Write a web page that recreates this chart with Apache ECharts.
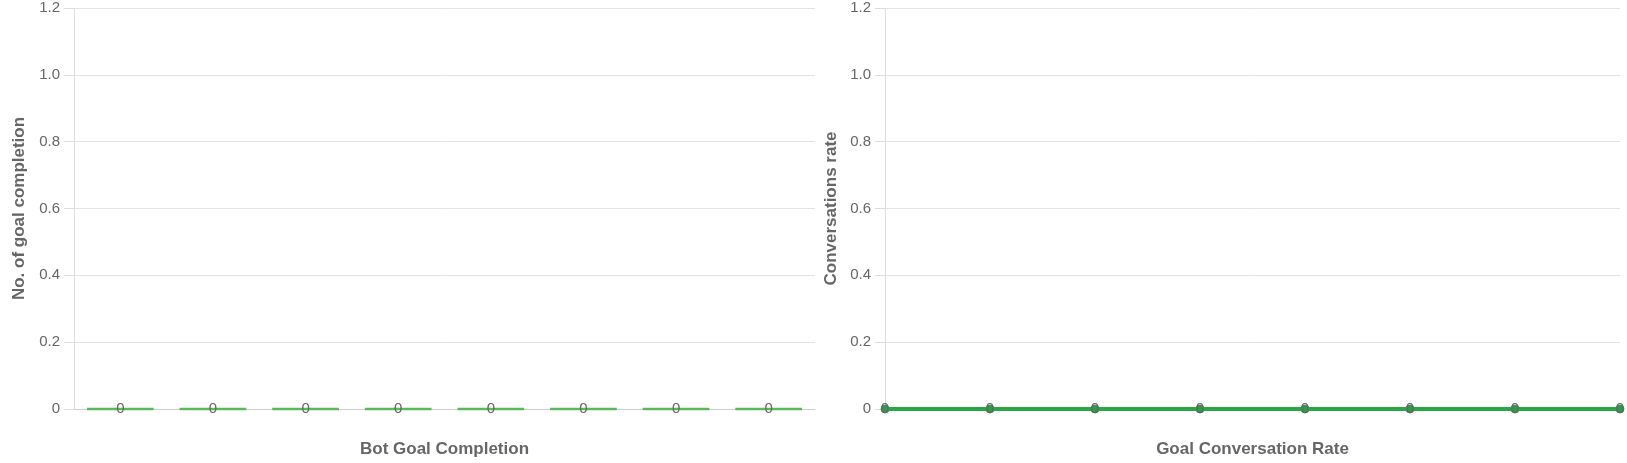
<!DOCTYPE html>
<html>
<head>
<meta charset="utf-8">
<script src="https://cdn.jsdelivr.net/npm/echarts@6/dist/echarts.min.js"></script>
<style>
html, body { margin: 0; padding: 0; background: #fff; }
#chart { width: 1627px; height: 463px; }
</style>
</head>
<body>
<div id="chart"></div>
<script>
// categories are blank in the source chart
var categories = ['', '', '', '', '', '', '', ''];
var goalCompletion = [0, 0, 0, 0, 0, 0, 0, 0];
var conversationRate = [0, 0, 0, 0, 0, 0, 0, 0];

var font = 'Liberation Sans, Arial, Helvetica, sans-serif';

function yAxisFor(idx, name, gap) {
    return {
        type: 'value',
        gridIndex: idx,
        min: 0,
        max: 1.2,
        interval: 0.2,
        name: name,
        nameLocation: 'middle',
        nameGap: gap,
        nameTextStyle: { color: '#666', fontSize: 17, fontWeight: 'bold', fontFamily: font },
        axisLine: { show: true, lineStyle: { color: '#ddd' } },
        axisTick: { show: true, length: 10, lineStyle: { color: '#ddd' } },
        axisLabel: {
            color: '#666', fontSize: 15, fontFamily: font, margin: 14,
            formatter: function (v) { return v === 0 ? '0' : v.toFixed(1); }
        },
        splitLine: { show: true, lineStyle: { color: '#e3e3e3' } }
    };
}

function xAxisFor(idx, name, gap) {
    return {
        type: 'category',
        gridIndex: idx,
        data: categories,
        boundaryGap: gap,
        name: name,
        nameLocation: 'middle',
        nameGap: 32,
        nameTextStyle: { color: '#666', fontSize: 17, fontWeight: 'bold', fontFamily: font, verticalAlign: 'top' },
        axisLine: { show: true, lineStyle: { color: '#ccc' } },
        axisTick: { show: false },
        axisLabel: { show: false },
        splitLine: { show: false }
    };
}

var chart = echarts.init(document.getElementById('chart'));
chart.setOption({
    animation: false,
    grid: [
        { left: 74, top: 8, width: 741, height: 405 },
        { left: 885, top: 8, width: 735, height: 405 }
    ],
    xAxis: [
        xAxisFor(0, 'Bot Goal Completion', true),
        xAxisFor(1, 'Goal Conversation Rate', false)
    ],
    yAxis: [
        yAxisFor(0, 'No. of goal completion', 46),
        yAxisFor(1, 'Conversations rate', 45)
    ],
    series: [
        {
            type: 'bar',
            xAxisIndex: 0,
            yAxisIndex: 0,
            data: goalCompletion,
            barWidth: '72%',
            itemStyle: { color: 'rgba(92,184,92,0.4)', borderColor: '#5cb85c', borderWidth: 2.5 },
            label: { show: true, position: 'inside', color: '#666', fontSize: 15, fontFamily: font }
        },
        {
            type: 'line',
            xAxisIndex: 1,
            yAxisIndex: 1,
            data: conversationRate,
            symbol: 'circle',
            symbolSize: 8,
            showAllSymbol: true,
            clip: false,
            lineStyle: { color: '#28a745', width: 4 },
            itemStyle: { color: '#2f9a4a', borderColor: '#2f9a4a', borderWidth: 1 },
            label: { show: true, position: 'inside', color: '#666', fontSize: 15, fontFamily: font }
        }
    ]
});
</script>
</body>
</html>
